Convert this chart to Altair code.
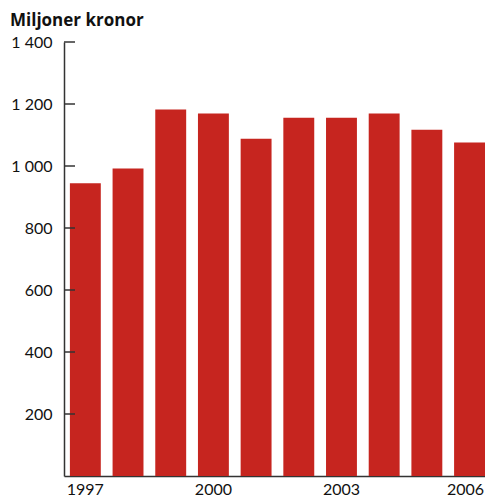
import altair as alt
import pandas as pd

years = [1997, 1998, 1999, 2000, 2001, 2002, 2003, 2004, 2005, 2006]
values = [944, 992, 1182, 1169, 1088, 1156, 1156, 1169, 1117, 1076]
y_ticks = [200, 400, 600, 800, 1000, 1200, 1400]
x_labels = [1997, 2000, 2003, 2006]
title_text = ["Miljoner kronor"]

df = pd.DataFrame({"year": years, "value": values})
tick_df = pd.DataFrame({"v": y_ticks})
title_df = pd.DataFrame({"t": title_text})

FONT = "Lato"
AXIS_COLOR = "#333333"

yscale = alt.Scale(domain=[0, 1400], nice=False)
yaxis = alt.Axis(
    values=y_ticks,
    labelExpr="datum.value >= 1000 ? '1 ' + substring(toString(datum.value), 1) : toString(datum.value)",
    ticks=False,
    tickSize=0,
    labelPadding=12,
    grid=False,
    labelFont=FONT,
    labelFontSize=16,
    labelColor="#111111",
    domainColor=AXIS_COLOR,
    domainWidth=1.5,
)

bars = alt.Chart(df).mark_bar(color="#C6251F").encode(
    x=alt.X(
        "year:O",
        title=None,
        scale=alt.Scale(paddingInner=0.276, paddingOuter=0.069, align=1),
        axis=alt.Axis(
            values=x_labels,
            labelAngle=0,
            ticks=False,
            tickSize=0,
            labelPadding=5,
            labelOffset=alt.ExprRef("datum.value == 2006 ? -4 : 0"),
            labelFont=FONT,
            labelFontSize=16,
            labelColor="#111111",
            domainColor=AXIS_COLOR,
            domainWidth=1.5,
        ),
    ),
    y=alt.Y("value:Q", title=None, scale=yscale, axis=yaxis),
)

ticks = alt.Chart(tick_df).mark_rule(color=AXIS_COLOR, strokeWidth=1.5).encode(
    y=alt.Y("v:Q", title=None, scale=yscale, axis=yaxis),
    x=alt.value(0),
    x2=alt.value(11),
)

title = alt.Chart(title_df).mark_text(
    font="Open Sans", fontSize=17, fontWeight="bold", color="#111111",
    align="left", baseline="alphabetic",
).encode(
    text="t:N",
    x=alt.value(-54),
    y=alt.value(-16),
)

chart = alt.layer(bars, ticks, title).properties(
    width=421,
    height=434,
    autosize=alt.AutoSizeParams(type="none"),
    padding={"left": 56, "top": 34, "right": 0, "bottom": 20},
).configure_view(stroke=None)

chart.save("out.html", embed_options={"renderer": "svg", "actions": False})
